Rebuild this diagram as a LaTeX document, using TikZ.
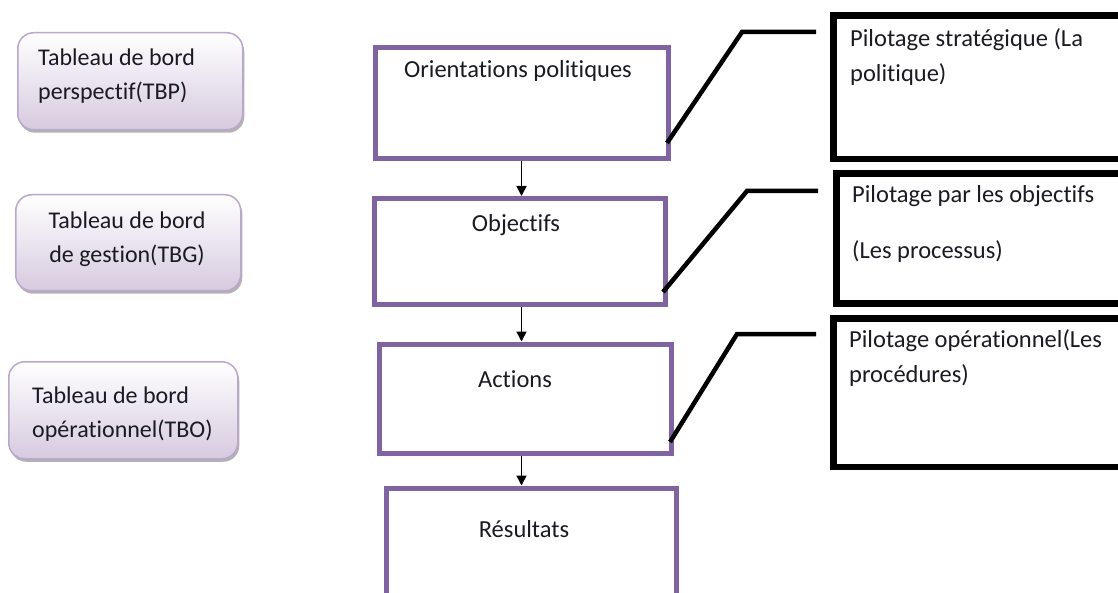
\documentclass[tikz,border=0pt]{standalone}
\usepackage{fontspec}
\setmainfont{Carlito}[Ligatures=NoCommon]
\usetikzlibrary{arrows.meta,shadows}

\definecolor{boxpurple}{HTML}{8064A2}
\definecolor{tbedge}{HTML}{B9A8CB}
\definecolor{tbfill}{HTML}{D6CADF}
\definecolor{ink}{HTML}{1A1A22}

\begin{document}
\begin{tikzpicture}[x=1pt,y=-1pt,
  txt/.style={inner sep=0pt,text=ink,font=\fontsize{24.5}{35}\selectfont},
  tbtxt/.style={txt,font=\fontsize{24}{34}\selectfont},
  tbbox/.style={draw=tbedge,line width=1.5pt,rounded corners=16pt,
    top color=white,bottom color=tbfill,anchor=north west,inner sep=0pt,
    drop shadow={shadow xshift=1.5pt,shadow yshift=-3pt,opacity=.3,fill=black}},
  mainbox/.style={draw=boxpurple,line width=5pt,anchor=north west,inner sep=0pt},
  pilotbox/.style={draw=black,line width=6.5pt,anchor=north west,inner sep=0pt},
  link/.style={line width=4.5pt,line join=miter},
  arr/.style={line width=1.6pt,-{Triangle[length=10pt,width=10pt]}}]

\useasboundingbox (0,0) rectangle (1118,593);
\clip (0,0) rectangle (1118,593);

% dashboard boxes (left column)
\node[tbbox,minimum width=225,minimum height=97] (tbp) at (17,32) {};
\node[tbbox,minimum width=225,minimum height=96] (tbg) at (15,194) {};
\node[tbbox,minimum width=229,minimum height=97] (tbo) at (8,361) {};

% two-line labels are anchored on the baseline of their last line
\node[tbtxt,anchor=base west,align=left] (tbpT) at (38,100) {Tableau de bord\\perspectif(TBP)};
\node[tbtxt,anchor=base,align=center] (tbgT) at (127,263) {Tableau de bord\\de gestion(TBG)};
\node[tbtxt,anchor=base west,align=left] (tboT) at (32,437) {Tableau de bord\\opérationnel(TBO)};

% main chain (centre column)
\node[mainbox,minimum width=293,minimum height=111.5] (ori) at (372.5,45) {};
\node[mainbox,minimum width=290.5,minimum height=106] (obj) at (372,196) {};
\node[mainbox,minimum width=292,minimum height=109.5] (act) at (376.5,341.5) {};
\node[mainbox,minimum width=290,minimum height=150] (res) at (383.5,485.5) {};

\node[txt,anchor=base] (oriT) at (518,78) {Orientations politiques};
\node[txt,anchor=base] (objT) at (516,232) {Objectifs};
\node[txt,anchor=base] (actT) at (515,387) {Actions};
\node[txt,anchor=base] (resT) at (524,537) {Résultats};

\draw[arr] (ori.south) -- (ori.south |- obj.north);
\draw[arr] (ori.south |- obj.south) -- (ori.south |- act.north);
\draw[arr] (ori.south |- act.south) -- (ori.south |- res.north);

% steering boxes (right column)
\node[pilotbox,minimum width=320,minimum height=143.5] (ps) at (830,12.5) {};
\node[pilotbox,minimum width=320,minimum height=130] (po) at (833,170.5) {};
\node[pilotbox,minimum width=320,minimum height=148] (pop) at (830,315.5) {};

\node[txt,anchor=base west,align=left] (psT) at (850,82) {Pilotage stratégique (La\\politique)};
\node[txt,anchor=base west] (poT) at (852,203) {Pilotage par les objectifs};
\node[txt,anchor=base west] (poT2) at (852,259) {(Les processus)};
\node[txt,anchor=base west,align=left] (popT) at (849,382) {Pilotage opérationnel(Les\\procédures)};

% callout links
\coordinate (c1a) at (667,143);
\coordinate (c1b) at (816,32);
\coordinate (c2a) at (663,292);
\coordinate (c2b) at (818,191);
\coordinate (c3a) at (670,442);
\coordinate (c3b) at (816,334);

\draw[link] (c1a) -- (742,32) -- (c1b);
\draw[link] (c2a) -- (747,191) -- (c2b);
\draw[link] (c3a) -- (737,334) -- (c3b);
\end{tikzpicture}
\end{document}
